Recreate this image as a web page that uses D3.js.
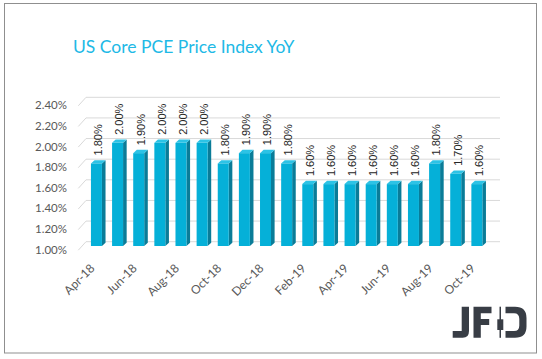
<!DOCTYPE html>
<html>
<head>
<meta charset="utf-8">
<script src="https://cdn.jsdelivr.net/npm/d3@7"></script>
<style>
  html, body { margin: 0; padding: 0; background: #ffffff; }
  svg { display: block; }
</style>
</head>
<body>
<svg id="chart" width="542" height="359"></svg>
<script>
const categories = ["Apr-18","May-18","Jun-18","Jul-18","Aug-18","Sep-18","Oct-18","Nov-18","Dec-18",
                    "Jan-19","Feb-19","Mar-19","Apr-19","May-19","Jun-19","Jul-19","Aug-19","Sep-19","Oct-19"];
const values = [1.8, 2.0, 1.9, 2.0, 2.0, 2.0, 1.8, 1.9, 1.9, 1.8, 1.6, 1.6, 1.6, 1.6, 1.6, 1.6, 1.8, 1.7, 1.6];
const yTicks = [1.0, 1.2, 1.4, 1.6, 1.8, 2.0, 2.2, 2.4];
const xTickLabels = ["Apr-18","Jun-18","Aug-18","Oct-18","Dec-18","Feb-19","Apr-19","Jun-19","Aug-19","Oct-19"];
const title = "US Core PCE Price Index YoY";

const svg = d3.select("#chart");

// outer frame
svg.append("rect").attr("x", 4.5).attr("y", 3.5).attr("width", 532).attr("height", 349.5)
  .attr("fill", "#ffffff").attr("stroke", "#8f8f8f").attr("stroke-width", 1);

// title
svg.append("text").attr("x", 73).attr("y", 53)
  .attr("font-family", "Lato, 'Open Sans', sans-serif").attr("font-size", 17.5)
  .attr("fill", "#21b9e6").text(title);

// scales
const yBack = d3.scaleLinear().domain([1.0, 2.4]).range([241.7, 97.3]);
const x = d3.scaleBand().domain(categories).range([80.8, 492.5]).padding(0.48);

// 3D offsets
const wall = { dx: 7.7, dy: -8.5 };   // depth of the chart box
const barShift = { dx: 0, dy: 4.3 };  // bar front plane relative to back wall
const barDepth = { dx: 3.6, dy: -3.3 };

const grid = svg.append("g");
const gridRight = 500;
const gridLeft = 86;
yTicks.forEach(t => {
  const yb = yBack(t);
  grid.append("line").attr("x1", gridLeft).attr("x2", gridRight).attr("y1", yb).attr("y2", yb)
    .attr("stroke", "#d9d9d9").attr("stroke-width", 1);
  grid.append("line").attr("x1", gridLeft - wall.dx).attr("y1", yb - wall.dy)
    .attr("x2", gridLeft).attr("y2", yb)
    .attr("stroke", "#d9d9d9").attr("stroke-width", 1);
});

// y-axis labels
svg.append("g").selectAll("text").data(yTicks).join("text")
  .attr("x", 67).attr("y", d => yBack(d) + 8 + 4)
  .attr("text-anchor", "end")
  .attr("font-family", "Lato, 'Open Sans', sans-serif").attr("font-size", 11.5)
  .attr("fill", "#595959")
  .text(d => d.toFixed(2) + "%");

// bars
const bars = svg.append("g");
categories.forEach((c, i) => {
  const v = values[i];
  const x0 = x(c) + barShift.dx;
  const w = x.bandwidth();
  const yTop = yBack(v) + barShift.dy;
  const yBot = yBack(1.0) + barShift.dy;
  // side face
  bars.append("path")
    .attr("d", `M${x0 + w},${yTop} L${x0 + w + barDepth.dx},${yTop + barDepth.dy} L${x0 + w + barDepth.dx},${yBot + barDepth.dy} L${x0 + w},${yBot} Z`)
    .attr("fill", "#0a7c98");
  // top face
  bars.append("path")
    .attr("d", `M${x0},${yTop} L${x0 + barDepth.dx},${yTop + barDepth.dy} L${x0 + w + barDepth.dx},${yTop + barDepth.dy} L${x0 + w},${yTop} Z`)
    .attr("fill", "#2cc3e6");
  // front face
  bars.append("rect").attr("x", x0).attr("y", yTop).attr("width", w).attr("height", yBot - yTop)
    .attr("fill", "#05b0d8");
  // value label
  const cx = x0 + w / 2 + barDepth.dx / 2 + 4;
  const ly = yTop - 8;
  bars.append("text")
    .attr("transform", `translate(${cx},${ly}) rotate(-90)`)
    .attr("font-family", "'Liberation Sans', Arial, sans-serif").attr("font-size", 11)
    .attr("fill", "#262626")
    .text(v.toFixed(2) + "%");
});

// x labels
svg.append("g").selectAll("text").data(xTickLabels).join("text")
  .attr("transform", d => `translate(${x(d) + x.bandwidth() / 2 - 1},${269}) rotate(-45)`)
  .attr("text-anchor", "end")
  .attr("font-family", "Lato, 'Open Sans', sans-serif").attr("font-size", 12)
  .attr("fill", "#595959")
  .text(d => d);

// JFD logo
const logo = svg.append("g").attr("fill", "#383d45");
// J
logo.append("path").attr("d", "M461.7,306.7 H469 V331 Q469,337.8 462.7,337.8 H452.7 V331 H461.7 Z");
// F
logo.append("path").attr("d", "M473.5,306.7 H491.5 V313.3 H480.8 V319 H489.2 V325 H480.8 V337.8 H473.5 Z");
// candle
logo.append("rect").attr("x", 499.5).attr("y", 306.7).attr("width", 1.5).attr("height", 31.1);
logo.append("rect").attr("x", 497.3).attr("y", 319.3).attr("width", 6).attr("height", 10.7);
// D
logo.append("path").attr("d", "M505.5,306.7 H515 Q526.5,306.7 526.5,318 V326.5 Q526.5,337.8 515,337.8 H505.5 V331 H514 Q519.3,331 519.3,325.5 V319 Q519.3,313.3 514,313.3 H505.5 Z");
</script>
</body>
</html>
